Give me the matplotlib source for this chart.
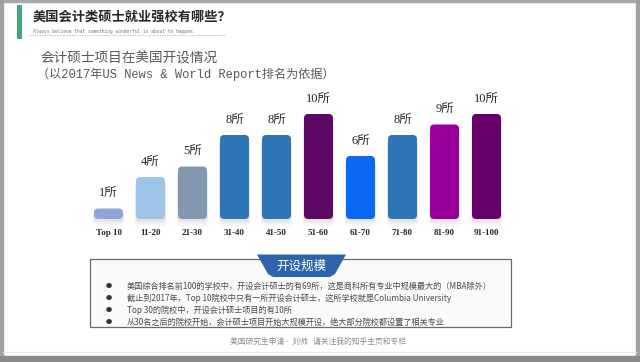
import matplotlib
matplotlib.use("Agg")
import matplotlib.pyplot as plt
from matplotlib.patches import FancyBboxPatch, Rectangle, Polygon

plt.rcParams['font.family'] = ['Noto Sans CJK SC', 'DejaVu Sans']

# data
ranks = ['Top 10', '11-20', '21-30', '31-40', '41-50',
         '51-60', '61-70', '71-80', '81-90', '91-100']
counts = [1, 4, 5, 8, 8, 10, 6, 8, 9, 10]
bar_colors = ['#8FA6DA', '#9DC3E8', '#8497B0', '#2E75B6', '#2E75B6',
              '#5E0866', '#0A68F5', '#2E75B6', '#980099', '#640068']

page_title = '美国会计类硕士就业强校有哪些？'
page_motto = 'Always believe that something wonderful is about to happen.'
chart_title = '会计硕士项目在美国开设情况'
chart_note = '（以2017年US News & World Report排名为依据）'
tab_label = '开设规模'
bullets = [
    '美国综合排名前100的学校中，开设会计硕士的有69所，这是商科所有专业中规模最大的（MBA除外）',
    '截止到2017年，Top 10院校中只有一所开设会计硕士，这所学校就是Columbia University',
    'Top 30的院校中，开设会计硕士项目的有10所',
    '从30名之后的院校开始，会计硕士项目开始大规模开设，绝大部分院校都设置了相关专业',
]
footer = '美国研究生申请 -  刘帅   请关注我的知乎主页和专栏'

W, H = 640, 362
fig = plt.figure(figsize=(6.4, 3.62), dpi=100)
fig.patch.set_facecolor('white')

# page layer in pixel coordinates
bg = fig.add_axes([0, 0, 1, 1])
bg.set_xlim(0, W)
bg.set_ylim(H, 0)
bg.axis('off')

# slide borders
bg.add_patch(Rectangle((0, 0), W, 2, color='#a8a8a8'))
bg.add_patch(Rectangle((0, 0), 3, H, color='#a0a0a0'))
bg.add_patch(Rectangle((636, 0), 4, H, color='#a0a0a0'))
bg.add_patch(Rectangle((0, 356), W, 6, color='#8a8a8a'))
bg.plot([3, 636], [352, 352], color='#e6e6e6', lw=0.8)

# header
bg.add_patch(Rectangle((17, 5), 4, 33, facecolor='#3DAA7D', edgecolor='#2a7f5a', lw=0.5))
bg.text(33, 17, page_title, fontsize=9.5, fontweight='bold', color='#262626', va='center')
bg.text(33, 31, page_motto, fontsize=3.3, color='#777777', va='center',
        family=['DejaVu Sans Mono'])
bg.plot([28, 226], [35, 35], color='#b0b0b0', lw=0.6, ls=(0, (1, 1)))

bg.text(40, 58, chart_title, fontsize=9.8, color='#595959', va='center')
bg.text(37, 74, chart_note, fontsize=8.7, color='#595959', va='center',
        family=['Liberation Mono', 'Noto Sans CJK SC'])

# summary box
bg.add_patch(Rectangle((90, 259), 421, 68, facecolor='#fafafa', edgecolor='#6a6a6a', lw=0.9))
bg.add_patch(Polygon([(257, 254.5), (346, 254.5), (335, 274), (330, 277),
                      (273, 277), (268, 274)], closed=True,
                     facecolor='#2F64AA', edgecolor='none'))
bg.text(301.5, 266, tab_label, fontsize=9, color='white', ha='center', va='center')
line_y = [286, 298.5, 310.5, 322]
for yy, txt in zip(line_y, bullets):
    bg.text(109, yy, '●', fontsize=4.5, color='#333333', ha='center', va='center')
    bg.text(127, yy, txt, fontsize=5.9, color='#4a4a4a', va='center')

bg.text(318, 342, footer, fontsize=5.6, color='#8c8c8c', ha='center', va='center')

# chart: bar centres at 108.5 + 42*i px, baseline at y=219, 10.5 px per school
ax = fig.add_axes([87.5 / W, (H - 219) / H, 420 / W, 115.5 / H])
ax.patch.set_alpha(0)
ax.set_xlim(-0.5, 9.5)
ax.set_ylim(0, 11)
for s in ax.spines.values():
    s.set_visible(False)
ax.set_yticks([])

bars = ax.bar(range(len(counts)), counts, width=0.69, color=bar_colors)
aspect = (1 / 10.5) / (1 / 42.0)
for b, c, n in zip(bars, bar_colors, counts):
    x0, y0, w, h = b.get_x(), b.get_y(), b.get_width(), b.get_height()
    b.set_visible(False)
    # soft shadow
    for k, a in [(0.7, 0.05), (0.45, 0.07), (0.25, 0.1)]:
        ax.add_patch(FancyBboxPatch((x0 - k * 0.05, y0 - k), w + k * 0.1, h,
                                    boxstyle='round,pad=0,rounding_size=0.1',
                                    mutation_aspect=aspect, facecolor='#808080',
                                    edgecolor='none', alpha=a, clip_on=False))
    ax.add_patch(FancyBboxPatch((x0, y0), w, h,
                                boxstyle='round,pad=0,rounding_size=0.1',
                                mutation_aspect=aspect, facecolor=c,
                                edgecolor='none', clip_on=False))
    ax.text(b.get_x() + w / 2, h + 1.35, f'{n}所', ha='center', va='center',
            fontsize=9, color='#262626',
            family=['Liberation Serif', 'Noto Sans CJK SC'], clip_on=False)

ax.set_xticks(range(len(ranks)))
ax.set_xticklabels(ranks, fontsize=6.5, fontweight='bold', color='#262626',
                   family='Liberation Serif')
ax.tick_params(axis='x', length=0, pad=7.5)

fig.savefig('out.png', dpi=100, facecolor='white')
